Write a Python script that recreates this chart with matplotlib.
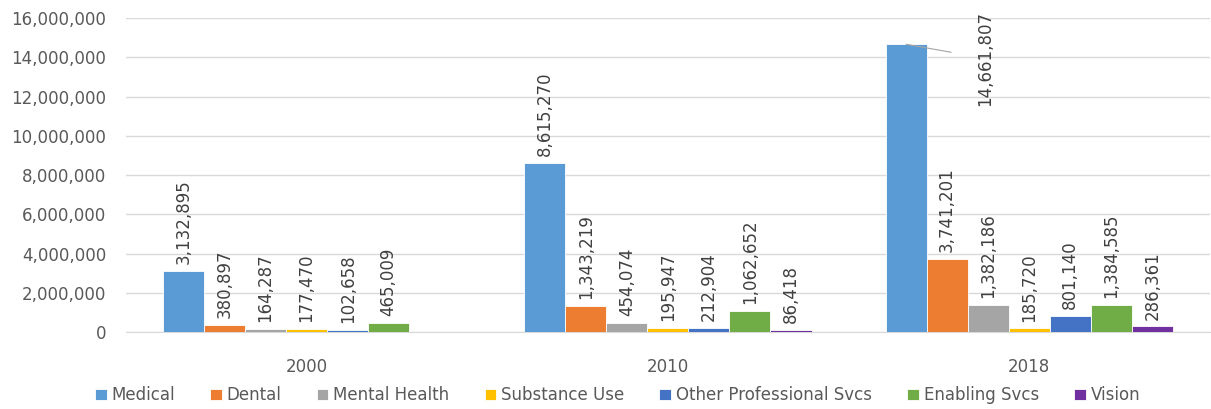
import numpy as np
import matplotlib
matplotlib.use('Agg')
import matplotlib.pyplot as plt

years = ['2000', '2010', '2018']
series = ['Medical', 'Dental', 'Mental Health', 'Substance Use',
          'Other Professional Svcs', 'Enabling Svcs', 'Vision']
medical = [3132895, 8615270, 14661807]
dental = [380897, 1343219, 3741201]
mental = [164287, 454074, 1382186]
substance = [177470, 195947, 185720]
other_prof = [102658, 212904, 801140]
enabling = [465009, 1062652, 1384585]
vision = [np.nan, 86418, 286361]
colors = ['#5B9BD5', '#ED7D31', '#A5A5A5', '#FFC000', '#4472C4', '#70AD47', '#7030A0']

values = [medical, dental, mental, substance, other_prof, enabling, vision]

plt.rcParams['font.family'] = 'DejaVu Sans'
fig = plt.figure(figsize=(12.11, 4.09), dpi=100)
ax = fig.add_axes([0.104, 0.188, 0.895, 0.768])

x = np.arange(len(years))
w = 0.1136
for i, (name, vals, c) in enumerate(zip(series, values, colors)):
    pos = x + (i - 3) * w
    ax.bar(pos, vals, w, color=c, edgecolor='white', linewidth=0.6, label=name, zorder=3)
    for j, (p, v) in enumerate(zip(pos, vals)):
        if np.isnan(v):
            continue
        if i == 0 and j == 2:
            # label pushed to the side with a leader line
            ax.annotate(f'{v:,.0f}', xy=(p, v), xytext=(p + 1.92 * w, 13950000),
                        rotation=90, ha='center', va='center', fontsize=12, color='#404040',
                        arrowprops=dict(arrowstyle='-', color='#A5A5A5', lw=0.8,
                                        shrinkA=16, shrinkB=0),
                        zorder=4)
            continue
        ax.annotate(f'{v:,.0f}', xy=(p, v), xytext=(0, 5), textcoords='offset points',
                    rotation=90, ha='center', va='bottom', fontsize=12, color='#404040', zorder=4)

ax.set_xlim(-0.5, 2.5)
ax.set_ylim(0, 16000000)
ax.set_yticks(np.arange(0, 16000001, 2000000))
ax.yaxis.set_major_formatter(matplotlib.ticker.FuncFormatter(lambda v, p: f'{v:,.0f}'))
ax.set_xticks(x)
ax.set_xticklabels(years)
ax.tick_params(axis='both', length=0, labelsize=12, labelcolor='#595959')
ax.tick_params(axis='y', pad=14)
ax.tick_params(axis='x', pad=19)
ax.grid(axis='y', color='#D9D9D9', linewidth=1, zorder=0)
for s in ['top', 'right', 'left']:
    ax.spines[s].set_visible(False)
ax.spines['bottom'].set_color('#D9D9D9')

fig.legend(loc='lower center', bbox_to_anchor=(0.51, -0.025), ncol=7, frameon=False,
           fontsize=12, handlelength=0.7, handleheight=0.7, handletextpad=0.3,
           columnspacing=2.1, labelcolor='#595959')

plt.savefig('out.png', dpi=100)
